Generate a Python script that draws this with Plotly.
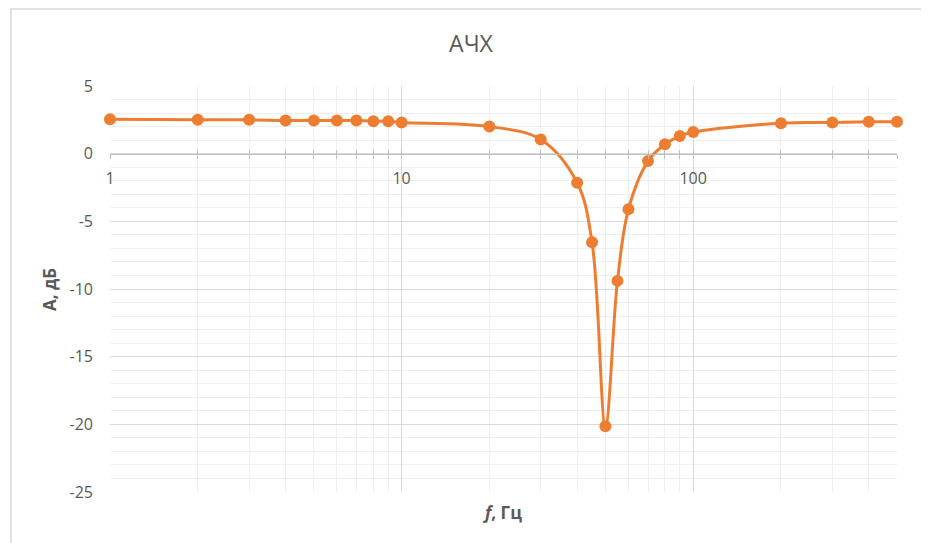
import math
import plotly.graph_objects as go

# ---- data ----
freq_hz = [1, 2, 3, 4, 5, 6, 7, 8, 9, 10, 20, 30, 40, 45, 50, 55, 60, 70, 80, 90, 100, 200, 300, 400, 500]
gain_db = [2.55, 2.5, 2.5, 2.45, 2.45, 2.45, 2.45, 2.4, 2.4, 2.3, 2.0, 1.05, -2.15, -6.55, -20.15,
           -9.4, -4.1, -0.55, 0.7, 1.3, 1.6, 2.25, 2.3, 2.35, 2.35]

x_major_ticks = [1, 10, 100]
x_major_text = ["1", "10", "100"]
x_minor_ticks = [2, 3, 4, 5, 6, 7, 8, 9, 20, 30, 40, 50, 60, 70, 80, 90, 200, 300, 400, 500]
y_ticks = [5, 0, -5, -10, -15, -20, -25]
y_tick_text = ["5", "0", "-5", "-10", "-15", "-20", "-25"]

title_text = "АЧХ"
x_title = "<i>f</i>, Гц"
y_title = "А, дБ"

ORANGE = "#ED7D31"
TXT = "#595959"
FONT = "Open Sans, Noto Sans, sans-serif"
X_MIN, X_MAX = 1, 500
Y_MIN, Y_MAX = -25, 5
zero_pos = (0 - Y_MIN) / (Y_MAX - Y_MIN)

# page has an 8px body margin; the figure is sized/positioned to compensate
OFF = 8
W, H = 929 - OFF, 543 - OFF
PL, PR, PT, PB = 110, 897, 86, 492  # plot area in window pixels
PW, PH = PR - PL, PB - PT

fig = go.Figure()
fig.add_trace(go.Scatter(
    x=freq_hz, y=gain_db, mode="lines+markers",
    line=dict(color=ORANGE, width=3, shape="spline", smoothing=1.0),
    marker=dict(color=ORANGE, size=12, line=dict(width=0)),
    cliponaxis=False, showlegend=False,
))
# invisible trace on overlay axis (gives tick marks crossing the zero line)
fig.add_trace(go.Scatter(x=freq_hz, y=gain_db, xaxis="x2", mode="markers",
                         marker=dict(opacity=0), hoverinfo="skip", showlegend=False))

xr = [math.log10(X_MIN), math.log10(X_MAX)]

fig.update_layout(
    width=W, height=H,
    margin=dict(l=PL - OFF, r=929 - PR, t=PT - OFF, b=543 - PB),
    paper_bgcolor="white", plot_bgcolor="white",
    font=dict(family=FONT, color=TXT, size=16),
    title=dict(text=title_text, x=(471 - OFF) / W, xref="container", xanchor="center",
               y=1 - (44 - OFF) / H, yref="container", yanchor="middle",
               font=dict(size=23, color=TXT, family=FONT)),
    xaxis=dict(type="log", range=xr, anchor="free", position=zero_pos,
               tickmode="array", tickvals=x_major_ticks, ticktext=x_major_text,
               showgrid=True, gridcolor="#d9d9d9", gridwidth=1,
               showline=True, linecolor="#bfbfbf", linewidth=1,
               ticks="outside", ticklen=4, tickcolor="#bfbfbf",
               ticklabelstandoff=6,
               tickfont=dict(size=16, color=TXT),
               minor=dict(tickmode="array", tickvals=x_minor_ticks, showgrid=True,
                          gridcolor="#efefef", gridwidth=1,
                          ticks="outside", ticklen=4, tickcolor="#bfbfbf"),
               zeroline=False, fixedrange=True),
    xaxis2=dict(type="log", range=xr, overlaying="x", anchor="free", position=zero_pos,
                tickmode="array", tickvals=x_major_ticks, showticklabels=False,
                showgrid=False, showline=False, ticks="inside", ticklen=4, tickcolor="#bfbfbf",
                minor=dict(tickmode="array", tickvals=x_minor_ticks, showgrid=False,
                           ticks="inside", ticklen=4, tickcolor="#bfbfbf"),
                zeroline=False),
    yaxis=dict(range=[Y_MIN, Y_MAX], tickmode="array", tickvals=y_ticks, ticktext=y_tick_text,
               showgrid=True, gridcolor="#d9d9d9", gridwidth=1,
               showline=False, zeroline=False, ticks="",
               ticklabelstandoff=16,
               tickfont=dict(size=16, color=TXT),
               minor=dict(dtick=1, showgrid=True, gridcolor="#efefef", gridwidth=1),
               fixedrange=True),
)

# x-axis title at the bottom of the plot area
fig.add_annotation(text=x_title, xref="paper", yref="paper",
                   x=(502 - PL) / PW, y=(PB - 512) / PH,
                   xanchor="center", yanchor="middle", showarrow=False,
                   font=dict(size=17, color=TXT, family=FONT, weight="bold"))
# y-axis title
fig.add_annotation(text=y_title, xref="paper", yref="paper",
                   x=(49 - PL) / PW, y=(PB - 290) / PH, textangle=-90,
                   xanchor="center", yanchor="middle", showarrow=False,
                   font=dict(size=17, color=TXT, family=FONT, weight="bold"))

# chart-area border (Excel style)
fig.add_shape(type="rect", xref="paper", yref="paper",
              x0=(11 - PL) / PW, x1=(945 - PL) / PW,
              y0=(PB - 560) / PH, y1=(PB - 9) / PH,
              line=dict(color="#d9d9d9", width=1.5), fillcolor="rgba(0,0,0,0)", layer="below")

fig.write_html("out.html")
